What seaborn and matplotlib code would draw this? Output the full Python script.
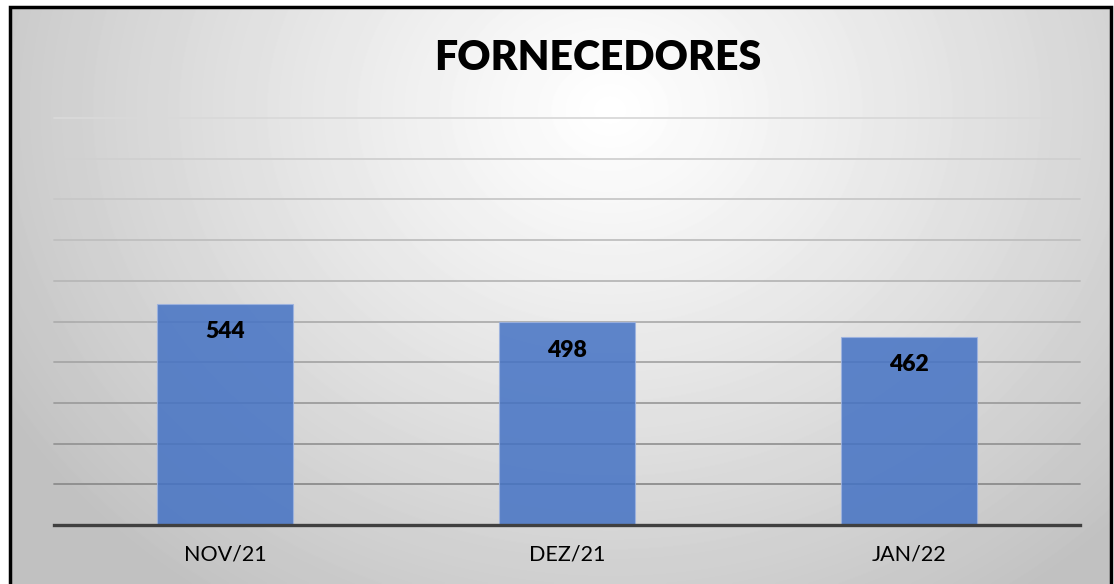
import matplotlib
matplotlib.use('Agg')
import matplotlib.pyplot as plt
import matplotlib.patches as patches
import numpy as np
import pandas as pd
import seaborn as sns

# data
months = ['NOV/21', 'DEZ/21', 'JAN/22']
fornecedores = [544, 498, 462]
title = 'FORNECEDORES'

df = pd.DataFrame({'mes': months, 'qtd': fornecedores})

sns.set_theme(style='white')
plt.rcParams['font.family'] = ['Lato', 'DejaVu Sans']

W, H = 1114, 584
fig = plt.figure(figsize=(W / 100, H / 100), dpi=100)
fig.patch.set_facecolor('white')

# radial gradient background inside the frame
fx0, fy0, fx1 = 10, 7, 1111
bg = fig.add_axes([fx0 / W, 0, (fx1 - fx0) / W, 1 - fy0 / H], zorder=0)
yy, xx = np.mgrid[fy0:H, fx0:fx1]
d = np.sqrt(((xx - 610) / 1.0) ** 2 + ((yy - 110) / 0.85) ** 2)
shade = 1 - 0.24 * np.clip(d / 700, 0, 1) ** 1.1
bg.imshow(shade, cmap='gray', vmin=0, vmax=1, aspect='auto', interpolation='bilinear')
bg.axis('off')

# frame
frame = patches.Rectangle((fx0 / W, -0.05), (fx1 - fx0) / W, 1.05 - fy0 / H,
                          transform=fig.transFigure, fill=False,
                          edgecolor='black', linewidth=2.5, zorder=5, clip_on=False)
fig.patches.append(frame)

# main plot
left, right, base, top = 54, 1080, 525, 118
ax = fig.add_axes([left / W, 1 - base / H, (right - left) / W, (base - top) / H], zorder=2)
ax.patch.set_alpha(0)

sns.barplot(data=df, x='mes', y='qtd', color='#4472C4', width=0.4, saturation=1,
            alpha=0.85, edgecolor='#9db3e0', linewidth=0.8, ax=ax, zorder=3)

ax.set_ylim(0, 1000)
ax.set_xlim(-0.5, 2.5)
ax.set_yticks(np.arange(100, 1001, 100))
ax.yaxis.grid(True, linewidth=1.3, zorder=1)
ax.set_axisbelow(True)
glines = ax.get_ygridlines()
cols = np.linspace(0.55, 0.85, len(glines))
for gl, c in zip(glines, cols):
    gl.set_color(str(c))
    gl.set_clip_on(False)
ax.set_yticklabels([])
ax.tick_params(axis='y', length=0)
ax.tick_params(axis='x', length=0, pad=14, labelsize=15.5, labelcolor='black')
ax.set_xlabel('')
ax.set_ylabel('')

for s in ['top', 'right', 'left']:
    ax.spines[s].set_visible(False)
ax.spines['bottom'].set_color('#404040')
ax.spines['bottom'].set_linewidth(2.4)
ax.spines['bottom'].set_zorder(4)

for i, v in enumerate(fornecedores):
    ax.annotate(str(v), (i, v), xytext=(0, -20), textcoords='offset points',
                ha='center', va='center', fontsize=16.5, fontweight='heavy', color='black')

fig.text(598 / W, 1 - 58 / H, title, ha='center', va='center',
         fontsize=29.5, fontweight='heavy', color='black')

fig.savefig('out.png', dpi=100)
